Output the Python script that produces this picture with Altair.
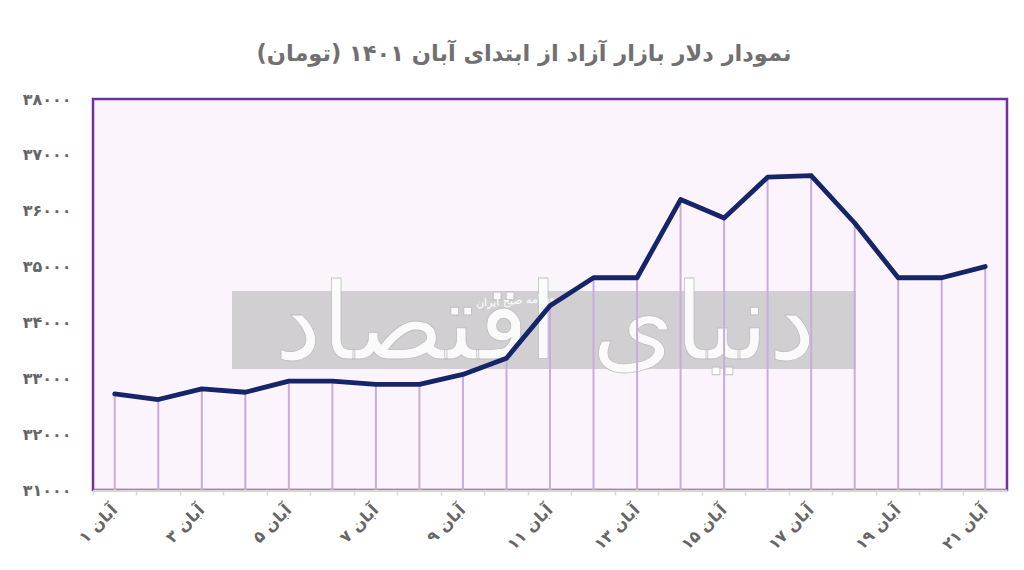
import altair as alt
import pandas as pd

RLM = "\u200f"
fa_digits = str.maketrans("0123456789", "۰۱۲۳۴۵۶۷۸۹")

days = list(range(1, 22))
day_labels = ["آبان " + str(d).translate(fa_digits) for d in days]
values = [32720, 32620, 32810, 32750, 32950, 32950, 32890, 32890, 33070, 33360,
          34300, 34800, 34800, 36200, 35870, 36600, 36630, 35780, 34800, 34800, 35000]
shown_labels = [day_labels[i] for i in range(0, 21, 2)]
y_ticks = [31000, 32000, 33000, 34000, 35000, 36000, 37000, 38000]
y_tick_labels = [str(v).translate(fa_digits) for v in y_ticks]

title_text = "نمودار دلار بازار آزاد از ابتدای آبان ۱۴۰۱ (تومان)" + RLM
watermark_big = "دنیای اقتصاد"
watermark_small = "روزنامه صبح ایران"

df = pd.DataFrame({"day": day_labels, "price": values})

font = "DejaVu Sans"
label_color = "#666666"

y_label_expr = "{" + ",".join(f"'{v}':'{l}'" for v, l in zip(y_ticks, y_tick_labels)) + "}[datum.label]"
x_label_expr = "indexof([" + ",".join(f"'{l}'" for l in shown_labels) + "], datum.value) >= 0 ? datum.label : ''"

W, H = 914, 391

x_enc = alt.X(
    "day:N", sort=day_labels, title=None,
    scale=alt.Scale(paddingInner=0, paddingOuter=0),
    axis=alt.Axis(
        labelExpr=x_label_expr, labelAngle=-45, labelAlign="right", labelBaseline="middle",
        labelFont=font, labelFontSize=16, labelFontWeight="bold", labelColor=label_color,
        labelPadding=12, bandPosition=0,
        tickColor="#d9d9d9", tickSize=5, tickWidth=1.5,
        domainColor="#d9d9d9", domainWidth=2, grid=False, labelOverlap=False,
    ),
)
y_scale = alt.Scale(domain=[31000, 38000], nice=False, zero=False)
y_enc = alt.Y(
    "price:Q", scale=y_scale, title=None,
    axis=alt.Axis(
        values=y_ticks, format="d", labelExpr=y_label_expr,
        labelFont=font, labelFontSize=16, labelFontWeight="bold", labelColor=label_color,
        labelPadding=22, ticks=False, domain=False, grid=False,
    ),
)

base = alt.Chart(df)
first_only = "datum.day == '" + day_labels[0] + "'"

wm_rect = base.mark_rect(color="#cfcccf", opacity=0.95).encode(
    x=alt.value(139), x2=alt.value(763), y=alt.value(192), y2=alt.value(270)
).transform_filter(first_only)

wm_text = base.mark_text(
    text=watermark_big, font=font, fontSize=106, fill="white", stroke="#bdbdbd",
    strokeWidth=0.8, align="center", baseline="middle", opacity=0.9
).encode(x=alt.value(452), y=alt.value(228)).transform_filter(first_only)

wm_small = base.mark_text(
    text=watermark_small, font=font, fontSize=11, fill="white", angle=356,
    align="center", baseline="middle"
).encode(x=alt.value(425), y=alt.value(202)).transform_filter(first_only)

drops = base.mark_rule(color="#c7acdf", strokeWidth=2).encode(
    x=x_enc, y=y_enc, y2=alt.datum(31000)
)

line = base.mark_line(color="#16256a", strokeWidth=4.8, strokeCap="round", strokeJoin="round").encode(
    x=x_enc, y=y_enc
)

chart = alt.layer(wm_rect, wm_text, wm_small, drops, line).properties(
    width=W, height=H,
    title=alt.TitleParams(
        title_text, font=font, fontSize=22.5, fontWeight="bold", color="#707070",
        anchor="middle", offset=26, dx=-26,
    ),
    autosize=alt.AutoSizeParams(type="none"),
    padding={"left": 85, "top": 91, "right": 8, "bottom": 70},
    background="white",
).configure_view(
    fill="#fcf4fc", stroke="#7030a0", strokeWidth=2.5
)

chart.save("out.html", embed_options={"renderer": "svg", "actions": False})
